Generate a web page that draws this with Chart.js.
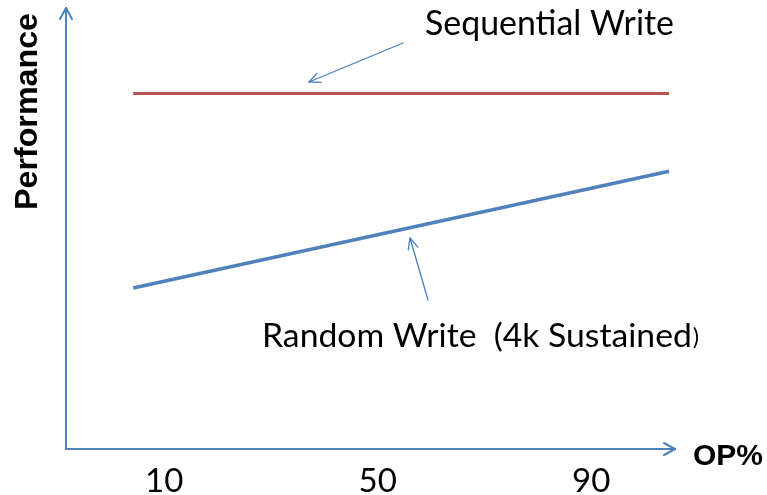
<!DOCTYPE html>
<html>
<head>
<meta charset="utf-8">
<script src="https://cdn.jsdelivr.net/npm/chart.js@4.4.1/dist/chart.umd.min.js"></script>
<style>
  html, body { margin: 0; padding: 0; background: #ffffff; }
  #wrap { width: 767px; height: 495px; position: relative; }
</style>
</head>
<body>
<div id="wrap"><canvas id="c" width="767" height="495"></canvas></div>
<script>
// ---- data ----
const opPercent = [4.2, 104.6];            // x extent of both lines (OP%)
const sequentialWrite = [80.6, 80.6];      // performance, arbitrary units
const randomWrite = [36.5, 63.0];          // performance, arbitrary units
const tickValues = [10, 50, 90];
const tickLabels = ['10', '50', '90'];
const seriesNames = ['Sequential Write', 'Random Write  (4k Sustained'];
const xTitle = 'OP%';
const yTitle = 'Performance';

const AXIS = '#4f81bd';

function arrowHead(ctx, x1, y1, x2, y2, len, half) {
  const a = Math.atan2(y2 - y1, x2 - x1);
  const ux = Math.cos(a), uy = Math.sin(a);
  const bx = x2 - ux * len, by = y2 - uy * len;
  ctx.beginPath();
  ctx.moveTo(bx - uy * half, by + ux * half);
  ctx.lineTo(x2, y2);
  ctx.lineTo(bx + uy * half, by - ux * half);
  ctx.stroke();
}
function arrow(ctx, x1, y1, x2, y2, len, half) {
  ctx.beginPath();
  ctx.moveTo(x1, y1);
  ctx.lineTo(x2, y2);
  ctx.stroke();
  arrowHead(ctx, x1, y1, x2, y2, len, half);
}
function fitText(ctx, text, x, y, width, weight, family) {
  ctx.font = weight + ' 100px ' + family;
  const w = ctx.measureText(text).width;
  const size = 100 * width / w;
  ctx.font = weight + ' ' + size.toFixed(2) + 'px ' + family;
  ctx.fillText(text, x, y);
  return size;
}

const annotations = {
  id: 'annotations',
  afterDraw(chart) {
    const ctx = chart.ctx;
    const a = chart.chartArea;
    ctx.save();
    // y axis with arrow
    ctx.strokeStyle = AXIS;
    ctx.lineWidth = 2;
    ctx.lineCap = 'round';
    ctx.lineJoin = 'round';
    arrow(ctx, a.left, a.bottom, a.left, a.top, 11, 6);
    // x axis arrowhead
    arrowHead(ctx, a.left, a.bottom, a.right, a.bottom, 11, 6);

    // callout arrows
    ctx.lineWidth = 1.3;
    ctx.strokeStyle = '#4a7ebb';
    arrow(ctx, 403, 43, 309, 82, 11, 5);
    arrow(ctx, 428, 300, 410, 238, 11, 5);

    // texts
    ctx.fillStyle = '#000000';
    ctx.textBaseline = 'alphabetic';
    ctx.textAlign = 'left';
    fitText(ctx, seriesNames[0], 425, 35, 249, 'normal', 'Lato, "Liberation Sans", sans-serif');
    const s = fitText(ctx, seriesNames[1], 262, 347, 430, 'normal', 'Lato, "Liberation Sans", sans-serif');
    const w2 = ctx.measureText(seriesNames[1]).width;
    ctx.font = (s * 0.7).toFixed(1) + 'px Lato, "Liberation Sans", sans-serif';
    ctx.fillText(')', 262 + w2 + 1, 345);

    fitText(ctx, xTitle, 693, 465, 70, 'bold', '"Liberation Sans", Arial, sans-serif');

    ctx.save();
    ctx.translate(37, 210);
    ctx.rotate(-Math.PI / 2);
    fitText(ctx, yTitle, 0, 0, 197, 'bold', '"Liberation Sans", Arial, sans-serif');
    ctx.restore();
    ctx.restore();
  }
};

new Chart(document.getElementById('c'), {
  type: 'line',
  data: {
    datasets: [
      {
        label: seriesNames[0],
        data: opPercent.map((x, i) => ({ x, y: sequentialWrite[i] })),
        borderColor: '#c0504d',
        borderWidth: 3,
        pointRadius: 0
      },
      {
        label: seriesNames[1],
        data: opPercent.map((x, i) => ({ x, y: randomWrite[i] })),
        borderColor: '#4f81bd',
        borderWidth: 3.5,
        pointRadius: 0
      }
    ]
  },
  options: {
    responsive: false,
    animation: false,
    devicePixelRatio: 1,
    layout: { padding: { left: 66, top: 8, right: 92, bottom: 0 } },
    plugins: { legend: { display: false }, tooltip: { enabled: false } },
    scales: {
      x: {
        type: 'linear',
        min: -8.4,
        max: 105.7,
        grid: { display: false, drawTicks: false },
        border: { display: true, color: AXIS, width: 2 },
        afterBuildTicks: (scale) => { scale.ticks = tickValues.map(v => ({ value: v })); },
        afterFit: (scale) => { scale.height = 46; },
        ticks: {
          autoSkip: false,
          maxRotation: 0,
          padding: 16,
          color: '#000000',
          font: { family: 'Lato, "Liberation Sans", sans-serif', size: 33, lineHeight: 1 },
          callback: (v) => tickLabels[tickValues.indexOf(v)]
        }
      },
      y: {
        display: false,
        min: 0,
        max: 100
      }
    }
  },
  plugins: [annotations]
});
</script>
</body>
</html>
